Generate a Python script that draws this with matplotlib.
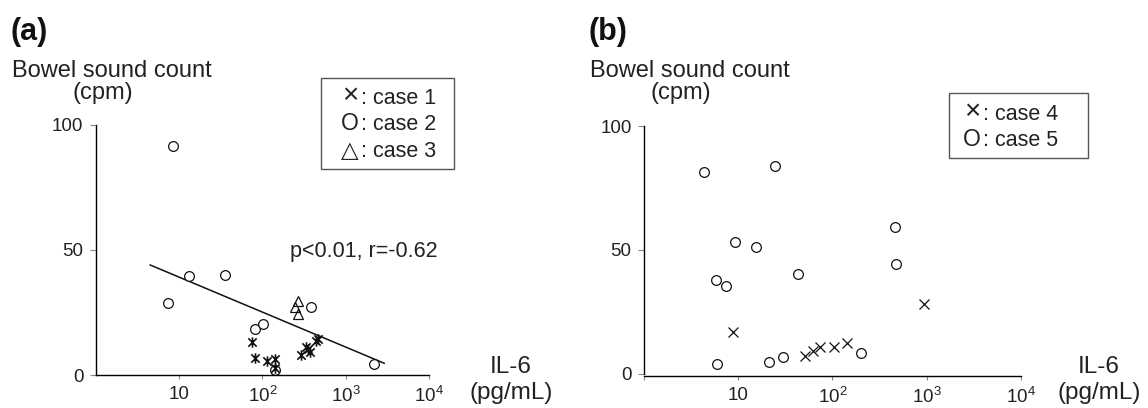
import matplotlib.pyplot as plt
from matplotlib.path import Path
from matplotlib.patches import Rectangle
from matplotlib.ticker import FixedLocator, NullLocator

plt.rcParams['font.family'] = ['Liberation Sans', 'DejaVu Sans']
plt.rcParams['mathtext.fontset'] = 'custom'
plt.rcParams['mathtext.rm'] = 'Liberation Sans'

# panel (a): IL-6 (pg/mL) vs bowel sound count (cpm)
case1_x = [76, 81, 113, 143, 143, 292, 336, 357, 374, 442, 462]
case1_y = [13.1, 6.7, 5.7, 6.4, 2.7, 8.0, 11.3, 10.3, 9.3, 13.6, 14.3]
case2_x = [8.5, 7.4, 13.2, 35.3, 81, 101, 378, 140, 2207]
case2_y = [91.7, 28.7, 39.6, 40.0, 18.3, 20.4, 27.3, 2.0, 4.4]
case3_x = [271, 248, 266]
case3_y = [29.7, 27.1, 24.4]
fit_x = [4.5, 2900]
fit_y = [44.0, 4.7]

# panel (b)
case4_x = [8.9, 51.7, 63, 74, 103, 142, 943]
case4_y = [16.7, 7.1, 9.1, 10.9, 10.9, 12.5, 28.0]
case5_x = [4.29, 24.5, 459, 9.3, 15.3, 468, 43.1, 5.78, 7.36, 5.94, 21.4, 29.8, 200]
case5_y = [81.5, 84.1, 59.3, 53.1, 51.2, 44.2, 40.2, 37.7, 35.5, 3.8, 4.8, 6.7, 8.2]

y_ticks = [0, 50, 100]
x_ticks_a = [10, 100, 1000, 10000]
x_labels_a = ["10", r"$\mathregular{10^2}$", r"$\mathregular{10^3}$", r"$\mathregular{10^4}$"]
x_ticks_b = [1, 10, 100, 1000, 10000]
x_labels_b = [""] + x_labels_a

W, H = 1148, 408
fig = plt.figure(figsize=(W / 100, H / 100), dpi=100)


def px_axes(x0, x1, y_top, y_bot):
    return fig.add_axes([x0 / W, 1 - y_bot / H, (x1 - x0) / W, (y_bot - y_top) / H])


def ftext(x, y, s, **kw):
    fig.text(x / W, 1 - y / H, s, **kw)


def style(ax, xt, xl):
    ax.set_xscale('log')
    ax.set_xlim(1, 10000)
    ax.set_ylim(0, 100)
    ax.xaxis.set_major_locator(FixedLocator(xt))
    ax.set_xticklabels(xl)
    ax.xaxis.set_minor_locator(NullLocator())
    ax.set_yticks(y_ticks)
    for s in ['top', 'right']:
        ax.spines[s].set_visible(False)
    for s in ['left', 'bottom']:
        ax.spines[s].set_linewidth(1.0)
    ax.tick_params(axis='both', length=4, width=0.8, color='#888888',
                   labelsize=13.5, labelcolor='#222222')
    ax.tick_params(axis='y', pad=5)
    ax.tick_params(axis='x', length=3, pad=5)


star = Path([(-1, -1), (1, 1), (-1, 1), (1, -1), (0, -1.25), (0, 1.25)],
            [Path.MOVETO, Path.LINETO, Path.MOVETO, Path.LINETO, Path.MOVETO, Path.LINETO])

# ---- panel (a)
ax1 = px_axes(95.8, 429, 125, 375)
style(ax1, x_ticks_a, x_labels_a)
ax1.plot(fit_x, fit_y, color='#111111', lw=1.1)
ax1.plot(case2_x, case2_y, 'o', ms=7, mfc='white', mec='#111111', mew=0.9, ls='none')
ax1.plot(case3_x, case3_y, '^', ms=7, mfc='none', mec='#111111', mew=0.9, ls='none')
ax1.plot(case1_x, case1_y, marker=star, ms=7.5, mec='#111111', mew=1.2, ls='none')
ax1.text(212, 47.2, "p<0.01, r=-0.62", fontsize=15.5, color='#222222')

# ---- panel (b)
ax2 = px_axes(644, 1020.8, 126.5, 373.5)
style(ax2, x_ticks_b, x_labels_b)
ax2.spines['bottom'].set_position(('outward', 2))
ax2.plot(case5_x, case5_y, 'o', ms=7, mfc='white', mec='#111111', mew=0.9, ls='none')
ax2.plot(case4_x, case4_y, 'x', ms=7, mec='#111111', mew=0.9, ls='none')

# panel labels and axis titles
for x0, lab in [(10, "(a)"), (588, "(b)")]:
    ftext(x0, 40, lab, fontsize=22, fontweight='bold', color='#111111')
for xc in [112, 690]:
    ftext(xc, 77, "Bowel sound count", fontsize=17, ha='center', color='#222222')
    ftext(xc - 9, 99, "(cpm)", fontsize=17, ha='center', color='#222222')
for xc in [511, 1099]:
    ftext(xc, 373, "IL-6", fontsize=17.5, ha='center', color='#222222')
    ftext(xc, 399, "(pg/mL)", fontsize=17.5, ha='center', color='#222222')

# legend boxes
legend_a = [("\u00d7", "case 1"), ("O", "case 2"), ("\u25b3", "case 3")]
legend_b = [("\u00d7", "case 4"), ("O", "case 5")]
for (bx0, bx1, by0, by1, sym_x, rows, y0) in [
        (321, 454, 78, 169, 350, legend_a, 104),
        (949, 1088, 93, 158, 972, legend_b, 120)]:
    fig.patches.append(Rectangle((bx0 / W, 1 - by1 / H), (bx1 - bx0) / W, (by1 - by0) / H,
                                 transform=fig.transFigure, fill=False,
                                 edgecolor='#555555', lw=1.0))
    for i, (sym, lab) in enumerate(rows):
        yb = y0 + i * 26.5
        if sym == "\u00d7":
            ftext(sym_x, yb - 1, sym, fontsize=20, ha='center', color='#222222')
        else:
            ftext(sym_x, yb, sym, fontsize=16.5, ha='center', color='#222222')
        ftext(sym_x + 11, yb, ": " + lab, fontsize=15.5, color='#222222')

fig.savefig("out.png", dpi=100)
